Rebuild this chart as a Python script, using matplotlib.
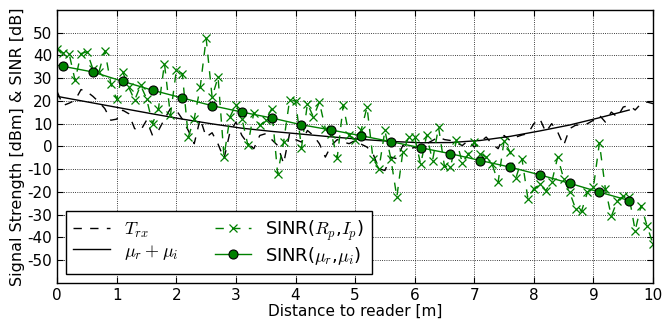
import numpy as np
import matplotlib
matplotlib.use("Agg")
import matplotlib.pyplot as plt

# measured values, 0.1 m steps from 0 to 10 m
t_rx = [24, 18, 19, 20.3, 25, 24, 22, 19.5, 16.6, 11.5,
        12, 15.9, 14.4, 7.8, 7, 11.5, 4.8, 7, 12, 16.6,
        15.9, 12, 7, 1.2, 12.2, 4.1, 6, 1, -5.4, 6.3,
        10.7, 4.8, 1.2, -1, 4.8, 5.6, 3, 0.4, -7.6, 5.6,
        3, 1.9, 7, 4.8, 1.2, -4.7, 0.4, 3, 1.9, 1.2,
        2.6, 1, -0.3, -3.2, -9.8, -10.6, -4.7, -5.4, 0.4, -1,
        -0.5, 0.4, 1.2, 2.6, 4.1, 3, 2.6, 1.5, 0.4, 2.6,
        -0.3, 2, 4.1, 1, -1, 4.8, 2.6, 4.1, 5, 5.6,
        10, 12.2, 6.3, 10, 6.3, 0.4, 7.8, 9.3, 9.5, 10,
        11.5, 13.7, 10.7, 15.1, 12.9, 17.3, 18, 16, 18.8, 19.5,
        18.8]

sinr_rp = [43, 41, 40.8, 29, 40.8, 41.6, 34, 32.7, 42, 27.6,
           20.7, 32.7, 26, 20.3, 26.9, 21, 10, 16.6, 36.4, 13.7,
           33.5, 32, 4.1, 12.2, 26, 47.5, 21.7, 30.5, -4.5, 13,
           18.4, 12.2, 0.6, 14.8, 9.2, 11.5, 16.6, -12, 1.9, 20.3,
           20, -0.6, 18.8, 12.9, 19.5, 7.8, 5.6, -5, 18, 4.8,
           3, 7, 17.3, -5.4, -9.8, 7, -5.4, -22.3, -2.5, 4.1,
           4.1, -7.9, 4.8, -6.2, 8.5, -8.8, -9.1, 2.6, -7.3, -3.5,
           1.9, -3.2, -4.7, -7.9, -15.7, 2.5, -2.5, -13.8, -5.4, -23,
           -18.6, -16.4, -19.4, -15.7, -4.7, -14.2, -20.1, -27.4, -28.5, -20.1,
           -17.9, 1.5, -18.6, -30.8, -23.8, -22, -22.3, -37, -26, -35,
           -43]

# fitted curves
fit_dist = [0, 0.1, 0.6, 1.1, 1.6, 2.1, 2.6, 3.1, 3.6, 4.1, 4.6,
            5.1, 5.6, 6.1, 6.6, 7.1, 7.6, 8.1, 8.6, 9.1, 9.6]
mu_sum = [22.0, 21.5, 19.1, 16.7, 14.3, 12.0, 9.9, 8.0, 6.6, 5.4, 4.2,
          3.1, 2.2, 1.6, 1.7, 2.6, 4.4, 6.8, 9.4, 12.6, 16.0]
sinr_mu = [35.7, 35.2, 32.7, 28.6, 24.7, 21.3, 17.9, 15.1, 12.5, 9.5, 7.2,
           4.7, 2.1, -0.6, -3.2, -6.2, -9.1, -12.5, -16.2, -20.1, -23.8]

dist = np.linspace(0, 10, len(t_rx))

plt.rcParams["font.family"] = "DejaVu Sans"
plt.rcParams["mathtext.fontset"] = "cm"
plt.rcParams["axes.unicode_minus"] = False
plt.rcParams["lines.dashed_pattern"] = (6, 6)

fig = plt.figure(figsize=(6.65, 3.2), dpi=100)
ax = fig.add_axes([0.086, 0.116, 0.896, 0.853])

ax.plot(dist, t_rx, "k--", lw=1, label=r"$T_{rx}$")
ax.plot(fit_dist, mu_sum, "k-", lw=1, label=r"$\mu_r+\mu_i$")
ax.plot(dist, sinr_rp, "--", color="g", lw=1, marker="x", ms=5.5,
        mew=0.9, label=r"SINR($R_p$,$I_p$)")
ax.plot(fit_dist, sinr_mu, "-", color="g", lw=1, marker="o", ms=6.5,
        mfc="g", mec="k", mew=0.8, markevery=range(1, len(fit_dist)),
        label=r"SINR($\mu_r$,$\mu_i$)")

ax.set_xlim(0, 10)
ax.set_ylim(-60, 60)
ax.set_xticks(range(0, 11))
ax.set_yticks(range(-50, 51, 10))
ax.grid(True, color="k", linestyle=":", linewidth=0.6)
ax.tick_params(direction="in", top=True, right=True, labelsize=11, length=4)
for s in ax.spines.values():
    s.set_linewidth(1)

ax.set_xlabel("Distance to reader [m]", fontsize=11, labelpad=1)
ax.set_ylabel("Signal Strength [dBm] & SINR [dB]", fontsize=11.5, labelpad=2)

leg = ax.legend(loc="lower left", ncol=2, fontsize=13, fancybox=False,
                framealpha=1, edgecolor="k", handlelength=2,
                handletextpad=0.8, columnspacing=2.0, labelspacing=0.1,
                borderpad=0.4, borderaxespad=0.5)
leg.get_frame().set_linewidth(1)

fig.savefig("out.png", dpi=100)
